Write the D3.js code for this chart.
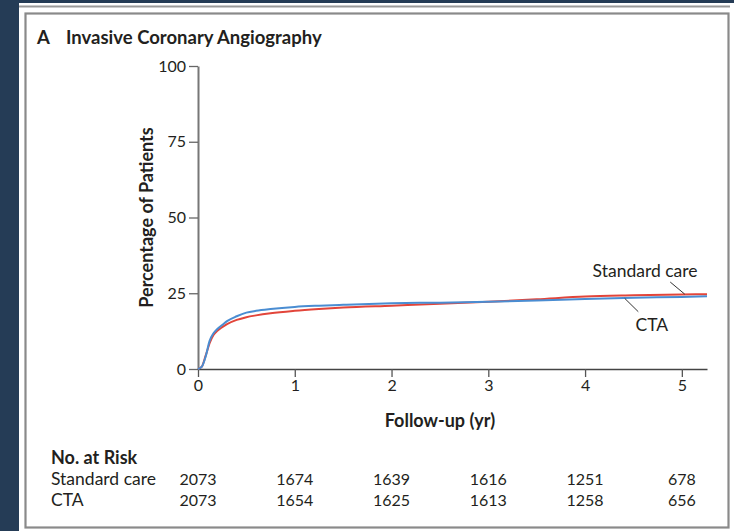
<!DOCTYPE html>
<html>
<head>
<meta charset="utf-8">
<script src="https://cdn.jsdelivr.net/npm/d3@7"></script>
<style>
  body { margin: 0; background: #fff; }
  svg { display: block; }
  text { font-family: Lato, "Open Sans", sans-serif; fill: #231f20; }
</style>
</head>
<body>
<div class="canvas"></div>
<script>
/* Invasive coronary angiography, cumulative incidence by arm */

// follow-up times (yr) and cumulative % for each arm
var years = [0, 0.04, 0.08, 0.12, 0.16, 0.2, 0.25, 0.3, 0.4, 0.5, 0.6, 0.75, 1, 1.25, 1.5, 2, 2.5, 3, 3.5, 4, 4.5, 5, 5.26];
var standardCare = [0, 0.8, 4.5, 8.5, 11.2, 12.6, 13.8, 14.8, 16.2, 17.1, 17.7, 18.4, 19.2, 19.8, 20.3, 20.9, 21.5, 22.2, 23.0, 23.9, 24.3, 24.6, 24.7];
var cta = [0, 0.8, 4.2, 9.3, 11.8, 13.2, 14.5, 15.8, 17.4, 18.6, 19.2, 19.8, 20.5, 20.9, 21.2, 21.7, 21.9, 22.2, 22.6, 23.1, 23.5, 23.8, 24.0];

var xTicks = [0, 1, 2, 3, 4, 5];
var yTicks = [0, 25, 50, 75, 100];

// number at risk
var riskGroups = ["Standard care", "CTA"];
var riskStandard = [2073, 1674, 1639, 1616, 1251, 678];
var riskCta = [2073, 1654, 1625, 1613, 1258, 656];

var W = 734, H = 531;
var svg = d3.select('.canvas').append('svg')
    .attr('width', W)
    .attr('height', H);

// page frame
svg.append('rect').attr('x', 0).attr('y', 0).attr('width', W).attr('height', H).attr('fill', '#253c56');
svg.append('rect').attr('x', 19).attr('y', 3).attr('width', W - 19).attr('height', H - 3).attr('fill', '#fff');
svg.append('line').attr('x1', 19).attr('x2', 730).attr('y1', 6.5).attr('y2', 6.5)
    .attr('stroke', '#999').attr('stroke-width', 2);
svg.append('rect').attr('x', 25.5).attr('y', 13.5).attr('width', 703).attr('height', 514)
    .attr('fill', 'none').attr('stroke', '#8a8a8a').attr('stroke-width', 2.2);

// title
var title = svg.append('text').attr('x', 37).attr('y', 44)
    .style('font-weight', 'bold').style('font-size', '18.5px');
title.append('tspan').text('A');
title.append('tspan').attr('x', 66).text('Invasive Coronary Angiography');

var x = d3.scaleLinear().domain([0, 5.26]).range([198, 707]);
var y = d3.scaleLinear().domain([0, 100]).range([369, 66]);

// axes
var yAxis = svg.append('g').attr('transform', 'translate(' + x(0) + ',0)')
    .call(d3.axisLeft(y).tickValues(yTicks).tickFormat(d3.format('d')).tickSize(9).tickPadding(3).tickSizeOuter(0));
yAxis.select('.domain').attr('stroke', '#777').attr('stroke-width', 2);
yAxis.selectAll('.tick line').attr('stroke', '#666').attr('stroke-width', 1.3);
yAxis.selectAll('.tick text').style('font-size', '16px').attr('fill', '#231f20');

var xAxis = svg.append('g').attr('transform', 'translate(0,' + y(0) + ')')
    .call(d3.axisBottom(x).tickValues(xTicks).tickFormat(d3.format('d')).tickSize(8).tickPadding(3).tickSizeOuter(0));
xAxis.select('.domain').attr('stroke', '#444').attr('stroke-width', 1.5);
xAxis.selectAll('.tick line').attr('stroke', '#555').attr('stroke-width', 1.3);
xAxis.selectAll('.tick text').style('font-size', '16px').attr('fill', '#231f20');

svg.append('text')
    .attr('transform', 'translate(153,' + y(50) + ') rotate(-90)')
    .attr('text-anchor', 'middle')
    .style('font-weight', 'bold').style('font-size', '18px')
    .text('Percentage of Patients');

svg.append('text')
    .attr('x', x(2.5)).attr('y', 427)
    .attr('text-anchor', 'middle')
    .style('font-weight', 'bold').style('font-size', '18px')
    .text('Follow-up (yr)');

// curves
var line = d3.line()
    .x(function(d){ return x(d[0]); })
    .y(function(d){ return y(d[1]); })
    .curve(d3.curveMonotoneX);

svg.append('path')
    .datum(years.map(function(t, i){ return [t, standardCare[i]]; }))
    .attr('d', line)
    .attr('fill', 'none').attr('stroke', '#e2453a').attr('stroke-width', 2);
svg.append('path')
    .datum(years.map(function(t, i){ return [t, cta[i]]; }))
    .attr('d', line)
    .attr('fill', 'none').attr('stroke', '#4a8dd2').attr('stroke-width', 2);

// curve labels with leader lines
svg.append('text').attr('x', x(4.62)).attr('y', y(30.4))
    .attr('text-anchor', 'middle').style('font-size', '17.5px').text('Standard care');
svg.append('line')
    .attr('x1', x(4.88)).attr('y1', y(28.7)).attr('x2', x(5.03)).attr('y2', y(24.7))
    .attr('stroke', '#333').attr('stroke-width', 1);
svg.append('text').attr('x', x(4.69)).attr('y', y(12.6))
    .attr('text-anchor', 'middle').style('font-size', '17.5px').text('CTA');
svg.append('line')
    .attr('x1', x(4.41)).attr('y1', y(23.3)).attr('x2', x(4.55)).attr('y2', y(18.9))
    .attr('stroke', '#333').attr('stroke-width', 1);

// number at risk table
svg.append('text').attr('x', 51).attr('y', 464)
    .style('font-weight', 'bold').style('font-size', '18px').text('No. at Risk');

[riskStandard, riskCta].forEach(function(row, r){
    var ty = 485 + r * 21;
    svg.append('text').attr('x', 51).attr('y', ty)
        .style('font-size', '17.5px').text(riskGroups[r]);
    svg.selectAll(null)
        .data(row)
        .enter()
        .append('text')
        .attr('x', function(d, i){ return x(xTicks[i]); })
        .attr('y', ty)
        .attr('text-anchor', 'middle')
        .style('font-size', '16px')
        .text(function(d){ return d; });
});
</script>
</body>
</html>
